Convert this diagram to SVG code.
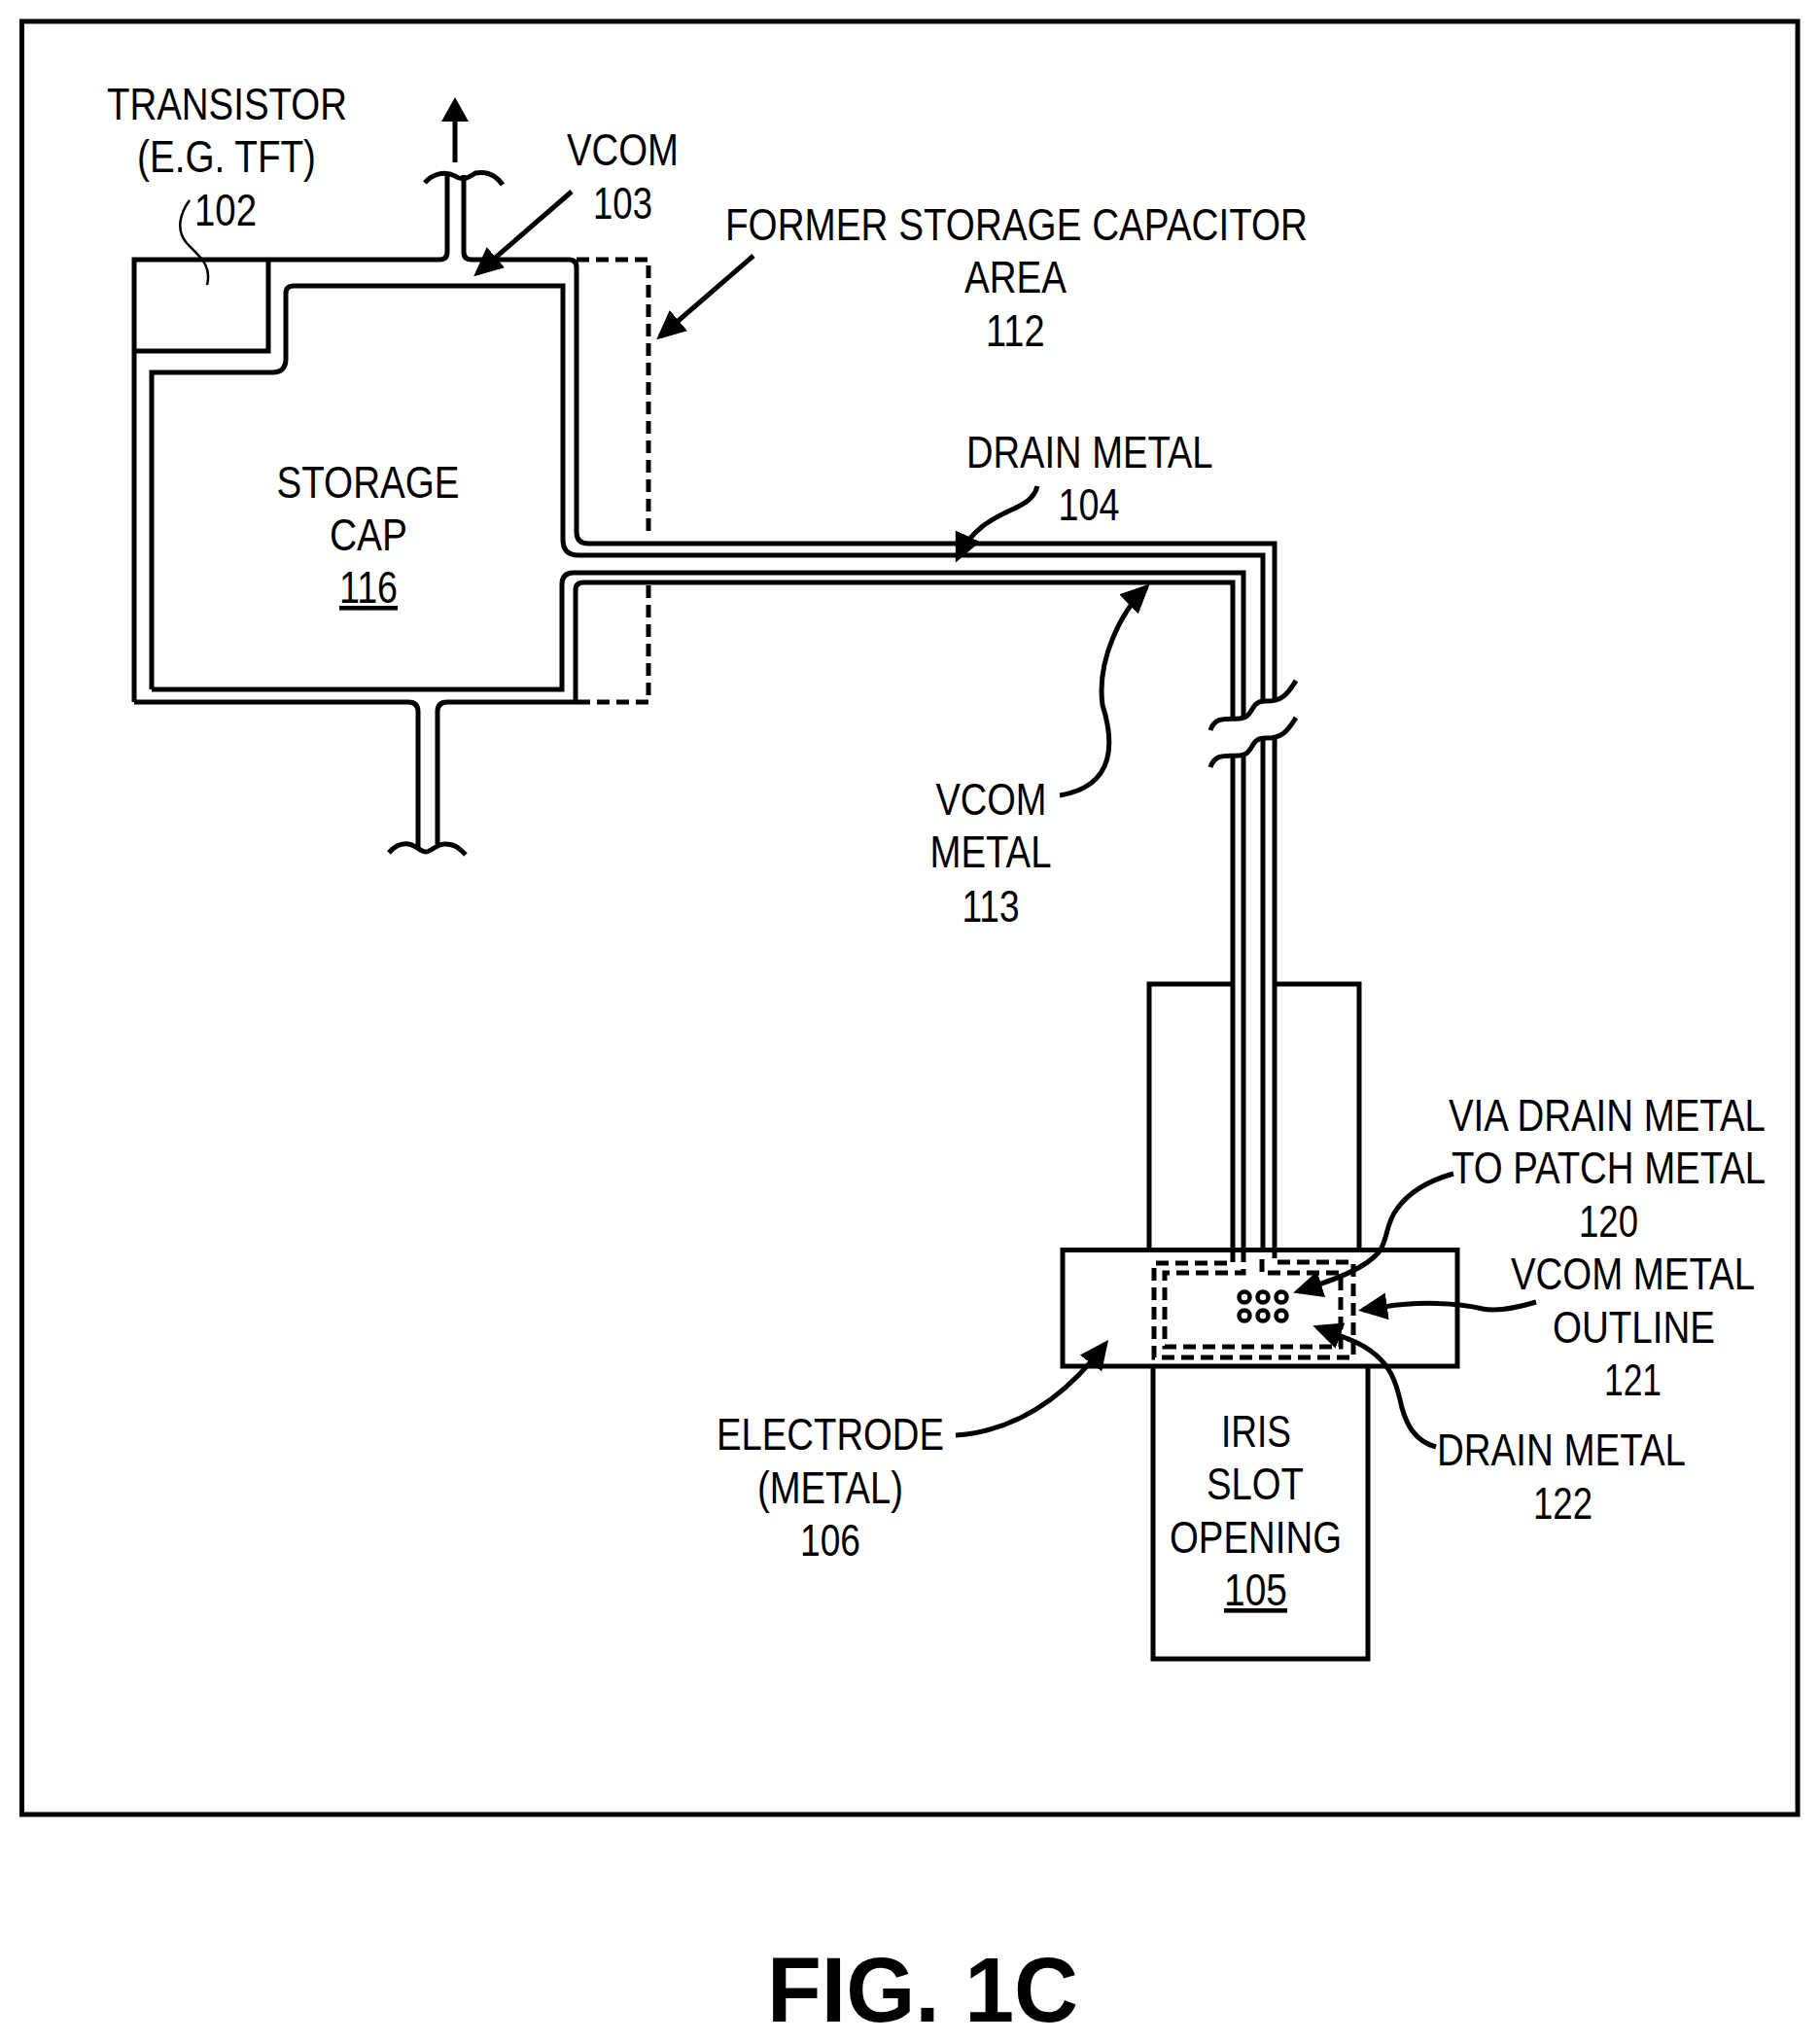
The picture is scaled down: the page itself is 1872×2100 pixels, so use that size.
<svg xmlns="http://www.w3.org/2000/svg" width="1872" height="2100" viewBox="0 0 1872 2100">
<style>
text{font-family:"Liberation Sans",Arial,sans-serif;font-size:46px;fill:#000}
.l{fill:none;stroke:#000;stroke-width:5}
.d{fill:none;stroke:#000;stroke-width:5;stroke-dasharray:13 7}
.a{fill:none;stroke:#000;stroke-width:5;marker-end:url(#h)}
.t{fill:none;stroke:#000;stroke-width:2.5}
.u{text-decoration:underline}
.fig{font-size:94px;font-weight:bold}
.v{fill:none;stroke:#000;stroke-width:4.5}
</style>
<defs>
<marker id="h" markerUnits="userSpaceOnUse" markerWidth="32" markerHeight="30" refX="25" refY="14" orient="auto"><path d="M0,0 L30,14 L0,28 Z" fill="#000"/></marker>
</defs>
<rect width="1872" height="2100" fill="#fff"/>
<rect id="frame" x="22.5" y="22" width="1826.5" height="1844" class="l"/>
<g id="transistor-102">
<path class="l" d="M276 267V361H138"/>
<text x="110" y="123" textLength="247" lengthAdjust="spacingAndGlyphs">TRANSISTOR</text>
<text x="141" y="177" textLength="184" lengthAdjust="spacingAndGlyphs">(E.G. TFT)</text>
<text x="200" y="232" textLength="64" lengthAdjust="spacingAndGlyphs">102</text>
</g>
<g id="storage-cap-116">
<text x="284.5" y="512" textLength="188" lengthAdjust="spacingAndGlyphs">STORAGE</text>
<text x="339" y="566" textLength="80" lengthAdjust="spacingAndGlyphs">CAP</text>
<text class="u" x="349" y="620" textLength="60" lengthAdjust="spacingAndGlyphs">116</text>
</g>
<g id="former-area-112">
<path class="d" d="M593 267H667V552M667 602V722H592"/>
<text x="746" y="247" textLength="599" lengthAdjust="spacingAndGlyphs">FORMER STORAGE CAPACITOR</text>
<text x="992" y="301" textLength="105" lengthAdjust="spacingAndGlyphs">AREA</text>
<text x="1014" y="356" textLength="60.5" lengthAdjust="spacingAndGlyphs">112</text>
</g>
<g id="vcom-103">
<text x="583" y="170" textLength="115" lengthAdjust="spacingAndGlyphs">VCOM</text>
<text x="610" y="225" textLength="61" lengthAdjust="spacingAndGlyphs">103</text>
</g>
<g id="drain-metal-104">
<text x="994" y="481" textLength="253.500" lengthAdjust="spacingAndGlyphs">DRAIN METAL</text>
<text x="1088.5" y="535" textLength="63" lengthAdjust="spacingAndGlyphs">104</text>
</g>
<g id="vcom-metal-113">
<text x="962.5" y="838" textLength="114" lengthAdjust="spacingAndGlyphs">VCOM</text>
<text x="956.5" y="892" textLength="125" lengthAdjust="spacingAndGlyphs">METAL</text>
<text x="989.5" y="948" textLength="59" lengthAdjust="spacingAndGlyphs">113</text>
</g>
<g id="iris-slot-105">
<path class="l" d="M1186 1405V1706H1407V1405"/>
<text x="1256" y="1488" textLength="72" lengthAdjust="spacingAndGlyphs">IRIS</text>
<text x="1241" y="1542" textLength="100" lengthAdjust="spacingAndGlyphs">SLOT</text>
<text x="1203" y="1597" textLength="177" lengthAdjust="spacingAndGlyphs">OPENING</text>
<text class="u" x="1259" y="1651" textLength="65" lengthAdjust="spacingAndGlyphs">105</text>
</g>
<g id="patch-upper">
<path class="l" d="M1182 1285V1012H1268M1311 1012H1398V1285"/>
</g>
<g id="electrode-106">
<rect class="l" x="1093" y="1285.500" width="406" height="119.500"/>
<text x="737" y="1491" textLength="234" lengthAdjust="spacingAndGlyphs">ELECTRODE</text>
<text x="779" y="1546" textLength="150" lengthAdjust="spacingAndGlyphs">(METAL)</text>
<text x="823" y="1600" textLength="62" lengthAdjust="spacingAndGlyphs">106</text>
</g>
<g id="via-120">
<g class="v"><circle cx="1280" cy="1334" r="5.5"/><circle cx="1299" cy="1334" r="5.5"/><circle cx="1318" cy="1334" r="5.5"/><circle cx="1280" cy="1353" r="5.5"/><circle cx="1299" cy="1353" r="5.5"/><circle cx="1318" cy="1353" r="5.5"/></g>
<text transform="matrix(.84 0 0 1 1490 1162.500)" textLength="388" lengthAdjust="spacingAndGlyphs">VIA DRAIN METAL</text>
<text transform="matrix(.81 0 0 1 1493 1217)" textLength="399" lengthAdjust="spacingAndGlyphs">TO PATCH METAL</text>
<text x="1624" y="1272" textLength="61" lengthAdjust="spacingAndGlyphs">120</text>
</g>
<g id="vcom-outline-121">
<path class="d" d="M1268 1285V1299H1187V1396H1392V1298H1311V1285"/>
<text x="1554" y="1326" textLength="251" lengthAdjust="spacingAndGlyphs">VCOM METAL</text>
<text x="1597" y="1381" textLength="167" lengthAdjust="spacingAndGlyphs">OUTLINE</text>
<text x="1650" y="1435" textLength="59" lengthAdjust="spacingAndGlyphs">121</text>
</g>
<g id="drain-outline-122">
<path class="d" d="M1279 1285V1309H1198V1385H1379V1309H1298V1285"/>
<text x="1478" y="1507" textLength="256" lengthAdjust="spacingAndGlyphs">DRAIN METAL</text>
<text x="1577" y="1562" textLength="61" lengthAdjust="spacingAndGlyphs">122</text>
</g>
<g id="connectors">
<path class="l" d="M138 722V267H452Q460 267 460 259V180"/>
<path class="l" d="M477 180V259Q477 267 485 267H585Q593 267 593 275V547Q593 559 605 559H1311V721"/>
<path class="l" d="M156 709V383H280Q294 383 294 369V302Q294 294 302 294H579V555Q579 571 595 571H1299V721"/>
<path class="l" d="M138 722H420Q430 722 430 732V872"/>
<path class="l" d="M450 868V732Q450 722 460 722H592V607Q592 599 600 599H1268V739"/>
<path class="l" d="M156 709H578V601Q578 589 590 589H1279V739"/>
<path class="l" d="M1311 760V1285M1299 760V1285M1268 778V1285M1279 778V1285"/>
<path class="l" d="M437 188C445 178 458 176 468 181C475 186 480 184 489 178C500 176 510 180 517 190"/>
<path class="l" d="M400 877C406 870 412 867 420 868C428 869 432 876 438 876C444 876 448 868 458 868C468 868 472 872 479 879"/>
<path class="l" d="M1245 751C1250 736 1262 740 1275 739C1290 738 1285 722 1300 721C1320 722 1325 712 1333 700"/>
<path class="l" d="M1245 789C1250 774 1262 778 1275 777C1290 776 1285 760 1300 759C1320 760 1325 750 1333 738"/>
<path class="t" d="M195 206C186 218 180 236 192 250C205 264 218 272 213 293"/>
<path class="l" d="M468 167V120"/>
<path d="M468 100L454 125H482Z" fill="#000"/>
<path class="a" d="M588 197L491 281"/>
<path class="a" d="M775 263L679 346"/>
<path class="a" d="M1067 500C1060 530 1010 520 985 574"/>
<path class="a" d="M1090 818C1150 808 1145 760 1134 725C1128 680 1152 630 1179 604"/>
<path class="a" d="M1495 1207C1470 1214 1450 1225 1437 1243C1425 1258 1428 1275 1418 1288C1405 1303 1380 1314 1335 1328"/>
<path class="a" d="M1580 1339C1560 1345 1540 1349 1525 1346C1500 1340 1460 1338 1423 1344L1402 1347"/>
<path class="a" d="M1477 1488C1455 1482 1447 1465 1442 1448C1437 1425 1432 1410 1420 1398C1405 1382 1385 1376 1355 1365"/>
<path class="a" d="M983 1476C1040 1472 1092 1442 1137 1382"/>
</g>
<text id="fig-label" class="fig" x="789" y="2079" textLength="320" lengthAdjust="spacingAndGlyphs">FIG. 1C</text>
</svg>
